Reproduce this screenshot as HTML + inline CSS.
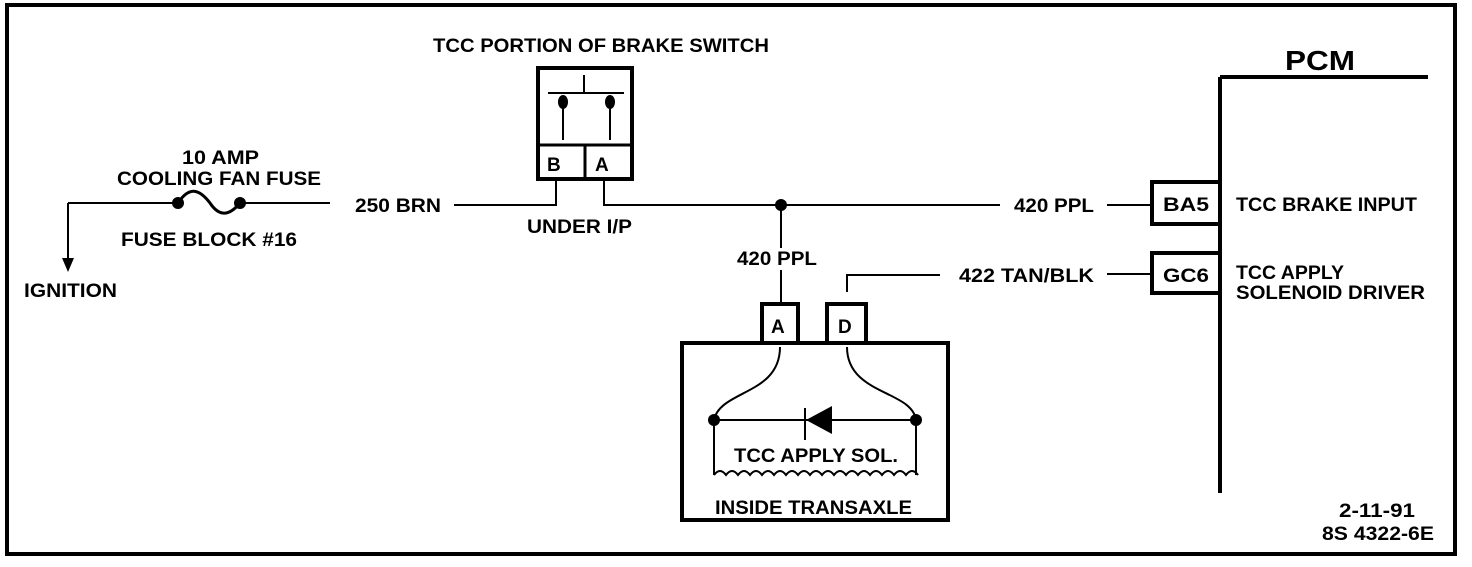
<!DOCTYPE html>
<html><head><style>
html,body{margin:0;padding:0;background:#fff;}
svg text{font-family:"Liberation Sans",sans-serif;font-weight:bold;font-size:19px;fill:#000;}
</style></head><body>
<svg width="1472" height="562" viewBox="0 0 1472 562" xmlns="http://www.w3.org/2000/svg">
<g fill="none" stroke="#000">
<path d="M7 5 H1455 V554 H7 Z" stroke-width="4"/>
<path d="M68 203 H178" stroke-width="2"/>
<path d="M68 203 V265" stroke-width="2"/>
<path d="M178 203 C190 185 200 190 210 203 C220 218 230 215 240 203" stroke-width="3"/>
<path d="M240 203 H330" stroke-width="2"/>
<path d="M454 205 H556 V180" stroke-width="2"/>
<path d="M604 180 V205 H1000" stroke-width="2"/>
<path d="M1107 205 H1150" stroke-width="2"/>
<path d="M1107 274 H1150" stroke-width="2"/>
<path d="M847 292 V275 H940" stroke-width="2"/>
<path d="M781 205 V248" stroke-width="2"/>
<path d="M781 270 V305" stroke-width="2"/>
<rect x="538" y="68" width="94" height="111" stroke-width="4"/>
<path d="M538 145 H632 M585 145 V179" stroke-width="3"/>
<path d="M548 93 H624 M584 75 V93" stroke-width="2"/>
<path d="M563 102 V140 M610 102 V140" stroke-width="2"/>
<rect x="682" y="343" width="266" height="177" stroke-width="4"/>
<rect x="762" y="304" width="36" height="39" stroke-width="4"/>
<rect x="827" y="304" width="39" height="39" stroke-width="4"/>
<path d="M780 347 C780 395 720 390 714 420" stroke-width="2"/>
<path d="M847 347 C847 395 912 390 916 420" stroke-width="2"/>
<path d="M714 420 H916" stroke-width="2"/>
<path d="M805 408 V440" stroke-width="2"/>
<path d="M714 420 V475 M916 420 V475" stroke-width="2"/>
<path d="M714 475 q6 -8 12 0 q6 -8 12 0 q6 -8 12 0 q6 -8 12 0 q6 -8 12 0 q6 -8 12 0 q6 -8 12 0 q6 -8 12 0 q6 -8 12 0 q6 -8 12 0 q6 -8 12 0 q6 -8 12 0 q6 -8 12 0 q6 -8 12 0 q6 -8 12 0 q6 -8 12 0 q6 -8 12 0" stroke-width="2"/>
<path d="M1220 77 H1428 M1220 77 V493" stroke-width="4"/>
<rect x="1152" y="182" width="68" height="42" stroke-width="4"/>
<rect x="1152" y="253" width="68" height="40" stroke-width="4"/>
</g>
<g fill="#000">
<circle cx="178" cy="203" r="6"/><circle cx="240" cy="203" r="6"/>
<circle cx="781" cy="205" r="6"/>
<circle cx="714" cy="420" r="6"/><circle cx="916" cy="420" r="6"/>
<ellipse cx="563" cy="102" rx="5" ry="7"/><ellipse cx="610" cy="102" rx="5" ry="7"/>
<polygon points="62,258 74,258 68,272"/>
<polygon points="806,420 832,406 832,434"/>
</g>
<text x="433" y="52" textLength="336" lengthAdjust="spacingAndGlyphs">TCC PORTION OF BRAKE SWITCH</text>
<text x="182" y="164" textLength="77" lengthAdjust="spacingAndGlyphs">10 AMP</text>
<text x="117" y="185" textLength="204" lengthAdjust="spacingAndGlyphs">COOLING FAN FUSE</text>
<text x="121" y="246" textLength="176" lengthAdjust="spacingAndGlyphs">FUSE BLOCK #16</text>
<text x="24" y="297" textLength="93" lengthAdjust="spacingAndGlyphs">IGNITION</text>
<text x="355" y="212" textLength="86" lengthAdjust="spacingAndGlyphs">250 BRN</text>
<text x="547" y="171">B</text>
<text x="595" y="171">A</text>
<text x="527" y="233" textLength="105" lengthAdjust="spacingAndGlyphs">UNDER I/P</text>
<text x="1014" y="212" textLength="80" lengthAdjust="spacingAndGlyphs">420 PPL</text>
<text x="737" y="265" textLength="80" lengthAdjust="spacingAndGlyphs">420 PPL</text>
<text x="959" y="282" textLength="135" lengthAdjust="spacingAndGlyphs">422 TAN/BLK</text>
<text x="771" y="333">A</text>
<text x="838" y="333">D</text>
<text x="734" y="462" textLength="164" lengthAdjust="spacingAndGlyphs">TCC APPLY SOL.</text>
<text x="715" y="514" textLength="197" lengthAdjust="spacingAndGlyphs">INSIDE TRANSAXLE</text>
<text x="1285" y="70" style="font-size:28px" textLength="70" lengthAdjust="spacingAndGlyphs">PCM</text>
<text x="1163" y="211" textLength="46" lengthAdjust="spacingAndGlyphs">BA5</text>
<text x="1163" y="282" textLength="46" lengthAdjust="spacingAndGlyphs">GC6</text>
<text x="1236" y="211" textLength="181" lengthAdjust="spacingAndGlyphs">TCC BRAKE INPUT</text>
<text x="1236" y="279" textLength="108" lengthAdjust="spacingAndGlyphs">TCC APPLY</text>
<text x="1236" y="299" textLength="189" lengthAdjust="spacingAndGlyphs">SOLENOID DRIVER</text>
<text x="1339" y="517" textLength="76" lengthAdjust="spacingAndGlyphs">2-11-91</text>
<text x="1322" y="540" textLength="112" lengthAdjust="spacingAndGlyphs">8S 4322-6E</text>
</svg>
</body></html>
